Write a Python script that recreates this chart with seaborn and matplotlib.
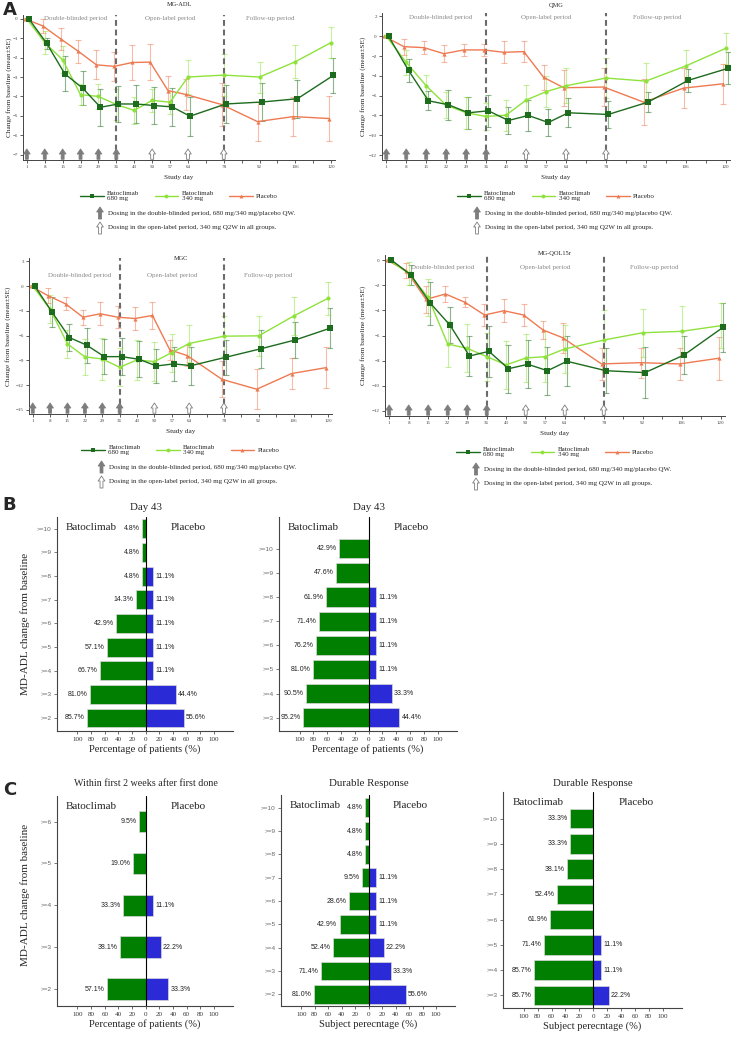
import numpy as np
import pandas as pd
import seaborn as sns
import matplotlib.pyplot as plt
from matplotlib.lines import Line2D

sns.set_theme(style='ticks')
plt.rcParams['font.family'] = ['Liberation Serif', 'DejaVu Serif']

# ---- panel A data: change from baseline (mean, SE) ----
days = [1, 8, 15, 22, 29, 36, 43, 50, 57, 64, 78, 92, 106, 120]
dose_filled = [1, 8, 15, 22, 29, 36]
dose_open = [50, 64, 78]

adl_680 = [0, -1.27, -2.83, -3.57, -4.56, -4.39, -4.39, -4.47, -4.54, -5.02, -4.39, -4.29, -4.12, -2.92]
adl_680_se = [0, 0.3, 0.9, 0.87, 0.95, 0.94, 1.0, 0.97, 0.98, 1.0, 1.0, 0.98, 0.98, 0.88]
adl_340 = [0, -1.22, -2.11, -3.91, -4.0, -4.42, -4.72, -4.2, -4.3, -3.0, -2.9, -3.0, -2.21, -1.22]
adl_340_se = [0, 0.6, 0.7, 0.55, 0.65, 0.8, 0.7, 0.6, 0.6, 0.9, 1.1, 0.8, 0.85, 0.8]
adl_pbo = [0, -0.36, -1.03, -1.68, -2.37, -2.45, -2.25, -2.23, -3.7, -3.9, -4.42, -5.3, -5.04, -5.14]
adl_pbo_se = [0, 0.36, 0.58, 0.6, 0.75, 0.75, 0.88, 0.94, 0.77, 0.8, 1.1, 1.0, 1.0, 1.15]

qmg_680 = [0, -3.45, -6.52, -6.92, -7.73, -7.53, -8.51, -8.0, -8.71, -7.73, -7.9, -6.65, -4.46, -3.24]
qmg_680_se = [0, 1.15, 0.95, 1.5, 1.6, 1.6, 1.4, 1.55, 1.4, 1.45, 1.4, 1.05, 1.2, 1.6]
qmg_340 = [0, -2.64, -5.0, -6.96, -7.73, -8.1, -7.97, -6.45, -5.6, -5.0, -4.22, -4.53, -3.0, -1.22]
qmg_340_se = [0, 1.3, 1.1, 1.3, 1.6, 1.4, 1.55, 1.55, 1.55, 1.75, 2.0, 1.8, 1.65, 1.55]
qmg_pbo = [0, -1.05, -1.15, -1.76, -1.38, -1.38, -1.62, -1.55, -4.16, -5.2, -5.13, -6.65, -5.24, -4.8]
qmg_pbo_se = [0, 0.8, 0.65, 0.85, 0.6, 0.6, 1.1, 1.05, 1.25, 1.8, 1.9, 2.3, 2.0, 2.0]

mgc_680 = [0, -3.16, -6.24, -7.17, -8.55, -8.55, -8.87, -9.68, -9.43, -9.64, -8.62, -7.6, -6.52, -5.1]
mgc_680_se = [0, 1.8, 1.6, 2.1, 2.1, 2.2, 2.2, 2.1, 2.1, 2.3, 2.1, 2.3, 2.2, 2.4]
mgc_340 = [0, -2.8, -7.0, -8.58, -8.83, -9.84, -8.95, -9.15, -8.06, -6.96, -6.07, -6.03, -3.64, -1.46]
mgc_340_se = [0, 1.7, 1.7, 2.2, 2.5, 2.3, 2.4, 2.4, 2.3, 2.2, 2.4, 2.4, 2.3, 2.0]
mgc_pbo = [0, -1.17, -2.15, -3.77, -3.36, -3.77, -3.93, -3.56, -7.73, -8.42, -11.3, -12.5, -10.6, -9.88]
mgc_pbo_se = [0, 0.9, 0.8, 0.9, 1.4, 1.3, 1.4, 1.6, 1.2, 1.3, 2.2, 2.4, 1.9, 2.5]

qol_680 = [0, -1.19, -3.44, -5.17, -7.63, -7.26, -8.64, -8.29, -8.8, -8.05, -8.8, -8.95, -7.55, -5.35]
qol_680_se = [0, 0.8, 1.7, 1.4, 1.6, 2.0, 1.9, 1.9, 1.9, 2.0, 1.8, 2.0, 1.5, 1.95]
qol_340 = [0, -1.06, -2.97, -6.68, -7.02, -7.68, -8.34, -7.79, -7.68, -7.07, -6.36, -5.78, -5.67, -5.22]
qol_340_se = [0, 0.9, 1.5, 1.8, 1.9, 1.9, 1.9, 1.9, 2.0, 1.9, 2.4, 1.9, 2.0, 1.8]
qol_pbo = [0, -0.85, -3.13, -2.7, -3.36, -4.37, -4.03, -4.37, -5.56, -6.17, -8.26, -8.16, -8.26, -7.81]
qol_pbo_se = [0, 0.6, 1.1, 0.6, 0.4, 0.9, 0.9, 0.9, 0.7, 1.2, 1.3, 1.2, 1.3, 1.7]

# ---- panels B / C data: responder percentages ----
cats_10_2 = ['>=10', '>=9', '>=8', '>=7', '>=6', '>=5', '>=4', '>=3', '>=2']
cats_10_3 = ['>=10', '>=9', '>=8', '>=7', '>=6', '>=5', '>=4', '>=3']
cats_6_2 = ['>=6', '>=5', '>=4', '>=3', '>=2']

b1_bato = [4.8, 4.8, 4.8, 14.3, 42.9, 57.1, 66.7, 81.0, 85.7]
b1_pbo = [0, 0, 11.1, 11.1, 11.1, 11.1, 11.1, 44.4, 55.6]
b2_bato = [42.9, 47.6, 61.9, 71.4, 76.2, 81.0, 90.5, 95.2]
b2_pbo = [0, 0, 11.1, 11.1, 11.1, 11.1, 33.3, 44.4]
c1_bato = [9.5, 19.0, 33.3, 38.1, 57.1]
c1_pbo = [0, 0, 11.1, 22.2, 33.3]
c2_bato = [4.8, 4.8, 4.8, 9.5, 28.6, 42.9, 52.4, 71.4, 81.0]
c2_pbo = [0, 0, 0, 11.1, 11.1, 11.1, 22.2, 33.3, 55.6]
c3_bato = [33.3, 33.3, 38.1, 52.4, 61.9, 71.4, 85.7, 85.7]
c3_pbo = [0, 0, 0, 0, 0, 11.1, 11.1, 22.2]

GROUPS = ['Batoclimab 680 mg', 'Batoclimab 340 mg', 'Placebo']
LEG_LABELS = ['Batoclimab\n680 mg', 'Batoclimab\n340 mg', 'Placebo']
LINE_COLORS = ['#1d6b1d', '#8fe23c', '#ee7a52']
MARKERS = ['s', 'o', '^']
OFFSETS = [0.8, 0.0, -0.8]
GREEN, BLUE = '#007f00', '#2a2ad6'
SANS = 'Liberation Sans'

W, H = 737, 1038
fig = plt.figure(figsize=(W / 100, H / 100), dpi=100)


def add_ax(l, t, r, b):
    return fig.add_axes([l / W, 1 - b / H, (r - l) / W, (b - t) / H])


def ftext(x, y, s, **kw):
    fig.text(x / W, 1 - y / H, s, **kw)


def arrow(ax, xy, xytext, coords, filled, scale=6):
    ax.annotate('', xy=xy, xytext=xytext, xycoords=coords, textcoords=coords,
                annotation_clip=False,
                arrowprops=dict(arrowstyle='simple,head_length=0.6,head_width=0.8,tail_width=0.35',
                                mutation_scale=scale, fc='#7d7d7d' if filled else 'white',
                                ec='#7d7d7d', lw=0.6, shrinkA=0, shrinkB=0))


def line_panel(box, title, title_y, series, yticks, ylim, period_y, ylabel_x):
    l, t, r, b = box
    ax = add_ax(*box)
    hpx = b - t
    rows = []
    for g, (m, se), off in zip(GROUPS, series, OFFSETS):
        for d, v in zip(days, m):
            rows.append((d + off, v, g))
    df = pd.DataFrame(rows, columns=['day', 'value', 'group'])

    for (m, se), off, c in zip(series, OFFSETS, LINE_COLORS):
        ax.errorbar(np.array(days[1:]) + off, m[1:], yerr=se[1:], fmt='none', ecolor=c,
                    alpha=0.5, elinewidth=0.8, capsize=2.2, capthick=0.8, zorder=1)
    sns.lineplot(data=df, x='day', y='value', hue='group', style='group',
                 hue_order=GROUPS[::-1], style_order=GROUPS[::-1],
                 palette=dict(zip(GROUPS, LINE_COLORS)), markers=dict(zip(GROUPS, MARKERS)),
                 dashes=False, markersize=3, markeredgewidth=0, linewidth=1.0,
                 legend=False, ax=ax, zorder=3)
    for ln in ax.lines:
        if ln.get_marker() == 's':
            ln.set_markersize(3.8)

    for x in (36, 78):
        ax.axvline(x, color='#6b6b6b', lw=1.5, ls=(0, (2.8, 1.8)), zorder=2)

    ax.set_xlim(-0.5, 121.5)
    ax.set_ylim(*ylim)
    ax.set_xticks(days)
    ax.set_xticks([71, 85, 99, 113], minor=True)
    ax.set_yticks(yticks)
    ax.tick_params(axis='both', which='both', labelsize=3.6, length=2.2, width=0.6,
                   pad=1.5, colors='#444444')
    for s in ('top', 'right'):
        ax.spines[s].set_visible(False)
    for s in ('left', 'bottom'):
        ax.spines[s].set_linewidth(0.7)
        ax.spines[s].set_color('#444444')
    ax.set_xlabel('Study day', fontsize=5.2, labelpad=4)
    ax.set_ylabel('')

    for d in dose_filled:
        arrow(ax, (d, 11 / hpx), (d, 0.005), ('data', 'axes fraction'), True)
    for d in dose_open:
        arrow(ax, (d, 11 / hpx), (d, 0.005), ('data', 'axes fraction'), False)

    for txt, x in (('Double-blinded period', 20), ('Open-label period', 57), ('Follow-up period', 96)):
        ax.text(x, period_y, txt, transform=ax.get_xaxis_transform(), ha='center',
                va='center', fontsize=5, color='#8a8a8a')

    cx = (l + r) / 2
    ftext(cx, title_y, title, ha='center', va='center', fontsize=4.6)
    ftext(ylabel_x, (t + b) / 2, 'Change from baseline (mean\u00b1SE)', rotation=90,
          ha='center', va='center', fontsize=5.2)

    handles = [Line2D([0], [0], color=c, marker=mk, markersize=3.4 if mk == 's' else 2.8,
                      markeredgewidth=0, lw=1.0) for c, mk in zip(LINE_COLORS, MARKERS)]
    fig.legend(handles, LEG_LABELS, loc='center', ncol=3, frameon=False, fontsize=5,
               bbox_to_anchor=(cx / W, 1 - (b + 36) / H), handlelength=3.4,
               handletextpad=0.5, columnspacing=2.2)

    for k, (filled, note) in enumerate(((True, 'Dosing in the double-blinded period, 680 mg/340 mg/placebo QW.'),
                                        (False, 'Dosing in the open-label period, 340 mg Q2W in all groups.'))):
        y = b + 53 + 15 * k
        arrow(ax, (cx - 79, H - y + 6), (cx - 79, H - y - 6), 'figure pixels', filled)
        ftext(cx - 71, y, note, ha='left', va='center', fontsize=5)
    return ax


def bar_panel(box, cats, bato, pbo, ylim, width, title, title_y, xlabel):
    l, t, r, b = box
    ax = add_ax(*box)
    sns.barplot(x=[-v for v in bato], y=cats, order=cats, orient='y', color=GREEN,
                saturation=1, width=width, errorbar=None, edgecolor='#d8d8d8',
                linewidth=0.5, ax=ax)
    sns.barplot(x=pbo, y=cats, order=cats, orient='y', color=BLUE, saturation=1,
                width=width, errorbar=None, edgecolor='#d8d8d8', linewidth=0.5, ax=ax)
    for i, (v, p) in enumerate(zip(bato, pbo)):
        ax.text(-v - 3.5, i, f'{v:.1f}%', ha='right', va='center', fontsize=5,
                family=SANS, color='#222222')
        if p > 0:
            ax.text(p + 3, i, f'{p:.1f}%', ha='left', va='center', fontsize=5,
                    family=SANS, color='#222222')
    ax.axvline(0, color='black', lw=0.8)
    ax.set_xlim(-130, 128)
    ax.set_ylim(*ylim)
    ticks = list(range(-100, 101, 20))
    ax.set_xticks(ticks)
    ax.set_xticklabels([str(abs(v)) for v in ticks])
    ax.tick_params(axis='x', labelsize=5, length=2, width=0.5, pad=2, colors='#333333')
    ax.tick_params(axis='y', labelsize=4.6, length=2.5, width=0.6, pad=1.5,
                   colors='#666666')
    for lab in ax.get_yticklabels():
        lab.set_family(SANS)
    for s in ('top', 'right'):
        ax.spines[s].set_visible(False)
    for s in ('left', 'bottom'):
        ax.spines[s].set_linewidth(0.8)
        ax.spines[s].set_color('#444444')
    ax.set_xlabel(xlabel, fontsize=7.6, labelpad=2)
    ax.set_ylabel('')
    ax.text(-80, 0.95, 'Batoclimab', transform=ax.get_xaxis_transform(), ha='center',
            va='center', fontsize=8)
    ax.text(62, 0.95, 'Placebo', transform=ax.get_xaxis_transform(), ha='center',
            va='center', fontsize=8)
    x0 = l + (r - l) * 130 / 258
    ftext(x0, title_y, title, ha='center', va='center', fontsize=7.8 if 'Within' not in title else 7.2)
    return ax


# ---- panel A ----
line_panel((23, 15, 335, 160), 'MG-ADL', 5,
           [(adl_680, adl_680_se), (adl_340, adl_340_se), (adl_pbo, adl_pbo_se)],
           list(range(0, -8, -1)), (-7.28, 0.2), 0.975, 9)
line_panel((382, 13, 730, 160), 'QMG', 5,
           [(qmg_680, qmg_680_se), (qmg_340, qmg_340_se), (qmg_pbo, qmg_pbo_se)],
           list(range(2, -13, -2)), (-12.5, 2.35), 0.97, 363)
line_panel((29, 258, 332, 414), 'MGC', 258,
           [(mgc_680, mgc_680_se), (mgc_340, mgc_340_se), (mgc_pbo, mgc_pbo_se)],
           list(range(3, -16, -3)), (-15.5, 3.4), 0.89, 8)
line_panel((385, 255, 725, 416), 'MG-QOL15r', 253,
           [(qol_680, qol_680_se), (qol_340, qol_340_se), (qol_pbo, qol_pbo_se)],
           list(range(0, -13, -2)), (-12.4, 0.4), 0.925, 363)

# ---- panel B ----
bar_panel((57, 517, 233, 731), cats_10_2, b1_bato, b1_pbo, (8.55, -0.5), 0.8,
          'Day 43', 508, 'Percentage of patients (%)')
bar_panel((279, 517, 457, 731), cats_10_3, b2_bato, b2_pbo, (7.55, -1.32), 0.8,
          'Day 43', 508, 'Percentage of patients (%)')

# ---- panel C ----
bar_panel((57, 796, 233, 1006), cats_6_2, c1_bato, c1_pbo, (4.4, -0.61), 0.52,
          'Within first 2 weeks after first done', 784, 'Percentage of patients (%)')
bar_panel((281, 795, 455, 1006), cats_10_2, c2_bato, c2_pbo, (8.5, -0.55), 0.8,
          'Durable Response', 783, 'Subject perecntage (%)')
bar_panel((503, 792, 682, 1008), cats_10_3, c3_bato, c3_pbo, (7.5, -1.05), 0.77,
          'Durable Response', 783, 'Subject perecntage (%)')

for y in (624, 895):
    ftext(25, y, 'MD-ADL change from baseline', rotation=90, ha='center', va='center',
          fontsize=8)

for letter, (x, y) in (('A', (10, 10)), ('B', (9, 505)), ('C', (10, 790))):
    ftext(x, y, letter, ha='center', va='center', fontsize=13, fontweight='bold',
          family='DejaVu Sans')

fig.savefig('out.png', dpi=100)
